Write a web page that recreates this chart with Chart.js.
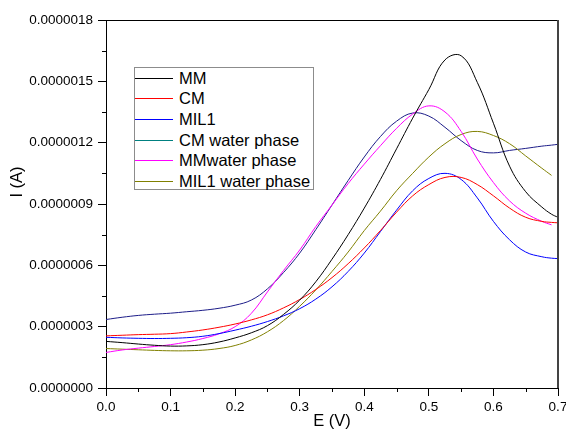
<!DOCTYPE html>
<html>
<head>
<meta charset="utf-8">
<script src="https://cdn.jsdelivr.net/npm/chart.js@4.4.1/dist/chart.umd.min.js"></script>
<style>
html, body { margin: 0; padding: 0; background: #fff; }
#wrap { position: relative; width: 566px; height: 439px; }
#legend {
    position: absolute; left: 134px; top: 67px; width: 180px; height: 123px;
    box-sizing: border-box; border: 1px solid #8c8c8c; background: #fff;
    font-family: 'Liberation Sans', Arial, sans-serif; font-size: 16.5px; color: #000;
}
.item { height: 20.6px; display: flex; align-items: center; white-space: nowrap; }
.sw { display: inline-block; width: 38px; height: 0; border-top: 1px solid; margin-right: 6px; }
</style>
</head>
<body>
<div id="wrap">
    <canvas id="cv" width="566" height="439"></canvas>
    <div id="legend"></div>
</div>
<script>
// potential E (V)
const potential = [0, 0.025, 0.05, 0.075, 0.1, 0.125, 0.15, 0.175, 0.2, 0.225, 0.25, 0.275,
    0.3, 0.325, 0.35, 0.375, 0.4, 0.425, 0.45, 0.475, 0.5, 0.525, 0.55, 0.575, 0.6, 0.625,
    0.65, 0.675, 0.69, 0.7];

// current, in units of 1e-7 A
const mm = [2.28, 2.22, 2.15, 2.09, 2.05, 2.06, 2.12, 2.25, 2.45, 2.7, 3.05, 3.6,
    4.3, 5.2, 6.3, 7.5, 8.8, 10.2, 11.7, 13.2, 14.6, 16.05, 16.25, 14.95, 12.95, 10.85,
    9.6, 8.85, 8.5, 8.35];
const cm = [2.55, 2.58, 2.61, 2.63, 2.66, 2.74, 2.84, 2.97, 3.13, 3.33, 3.58, 3.92,
    4.33, 4.82, 5.4, 6.08, 6.85, 7.7, 8.6, 9.4, 9.95, 10.3, 10.3, 9.95, 9.4, 8.8,
    8.35, 8.15, 8.1, 8.08];
const mil1 = [2.48, 2.45, 2.43, 2.42, 2.43, 2.46, 2.53, 2.66, 2.83, 3.02, 3.25, 3.53,
    3.88, 4.35, 4.95, 5.7, 6.6, 7.65, 8.7, 9.65, 10.25, 10.5, 10.2, 9.3, 8.15, 7.25,
    6.65, 6.42, 6.35, 6.33];
const cmWater = [];
const mmWater = [1.74, 1.86, 1.95, 2.03, 2.12, 2.25, 2.42, 2.65, 3.0, 3.65, 4.7, 5.75,
    6.75, 7.9, 8.95, 10.0, 10.95, 11.85, 12.7, 13.4, 13.8, 13.5, 12.55, 11.2, 10.05, 9.15,
    8.55, 8.15, 7.98, null];
const mil1Water = [1.93, 1.9, 1.87, 1.84, 1.82, 1.82, 1.85, 1.93, 2.08, 2.35, 2.75, 3.3,
    4.0, 4.8, 5.7, 6.65, 7.7, 8.65, 9.65, 10.5, 11.3, 11.95, 12.4, 12.55, 12.35, 11.95,
    11.35, 10.75, 10.4, null];
const navyCurve = [3.35, 3.46, 3.55, 3.61, 3.66, 3.73, 3.8, 3.9, 4.05, 4.3, 4.85, 5.65,
    6.6, 7.75, 8.95, 10.15, 11.3, 12.3, 13.05, 13.45, 13.3, 12.75, 12.1, 11.62, 11.5, 11.62,
    11.72, 11.83, 11.88, 11.92];

const xTicks = [0, 0.1, 0.2, 0.3, 0.4, 0.5, 0.6, 0.7];
const yTicks = [0, 3, 6, 9, 12, 15, 18];

const series = [
    { label: 'MM', values: mm, color: '#000000' },
    { label: 'CM', values: cm, color: '#ff0000' },
    { label: 'MIL1', values: mil1, color: '#0000ff' },
    { label: 'CM water phase', values: cmWater, color: '#008080' },
    { label: 'MMwater phase', values: mmWater, color: '#ff00ff' },
    { label: 'MIL1 water phase', values: mil1Water, color: '#808000' },
    { label: '', values: navyCurve, color: '#1c1c88' }
];

Chart.defaults.font.family = "'Liberation Sans', Arial, sans-serif";
Chart.defaults.color = '#000';

const datasets = series.map(s => ({
    label: s.label,
    data: s.values.map((v, i) => ({ x: potential[i], y: v })),
    borderColor: s.color,
    backgroundColor: s.color,
    borderWidth: 1,
    pointRadius: 0,
    tension: 0.4,
    spanGaps: false
}));

const extras = {
    id: 'extras',
    afterDraw(chart) {
        const ctx = chart.ctx;
        const a = chart.chartArea;
        const xs = chart.scales.x, ys = chart.scales.y;
        ctx.save();
        ctx.strokeStyle = '#000';
        ctx.lineWidth = 1;
        ctx.beginPath();
        // minor ticks
        for (let i = 0; i < xTicks.length - 1; i++) {
            const px = Math.round(xs.getPixelForValue((xTicks[i] + xTicks[i + 1]) / 2)) + 0.5;
            ctx.moveTo(px, a.bottom);
            ctx.lineTo(px, a.bottom + 4);
        }
        for (let i = 0; i < yTicks.length - 1; i++) {
            const py = Math.round(ys.getPixelForValue((yTicks[i] + yTicks[i + 1]) / 2)) + 0.5;
            ctx.moveTo(a.left - 4, py);
            ctx.lineTo(a.left, py);
        }
        // top frame
        ctx.moveTo(a.left, a.top + 0.5);
        ctx.lineTo(a.right, a.top + 0.5);
        ctx.stroke();
        ctx.strokeStyle = '#444';
        ctx.lineWidth = 2;
        ctx.beginPath();
        ctx.moveTo(a.right, a.top);
        ctx.lineTo(a.right, a.bottom);
        ctx.stroke();
        // y title
        ctx.fillStyle = '#000';
        ctx.font = "16.5px 'Liberation Sans', Arial, sans-serif";
        ctx.textAlign = 'center';
        ctx.textBaseline = 'middle';
        ctx.translate(17.5, 182);
        ctx.rotate(-Math.PI / 2);
        ctx.fillText('I (A)', 0, 0);
        ctx.restore();
    }
};

const chart = new Chart(document.getElementById('cv'), {
    type: 'line',
    data: { datasets },
    plugins: [extras],
    options: {
        responsive: false,
        animation: false,
        devicePixelRatio: 1,
        layout: { padding: { top: 20, right: 8, left: 0, bottom: 0 } },
        plugins: { legend: { display: false }, tooltip: { enabled: false } },
        scales: {
            x: {
                type: 'linear', min: 0, max: 0.7,
                afterFit(s) { s.height = 51; s.paddingLeft = 0; s.paddingRight = 0; },
                afterBuildTicks(s) { s.ticks = xTicks.map(v => ({ value: v })); },
                ticks: { autoSkip: false, maxRotation: 0, padding: 3, font: { size: 13.5 },
                    callback: v => v.toFixed(1) },
                grid: { drawOnChartArea: false, tickLength: 8, color: '#000' },
                border: { color: '#000', width: 1 },
                title: { display: true, text: 'E (V)', font: { size: 16.5 }, padding: { top: 0, bottom: 7.6 } }
            },
            y: {
                type: 'linear', min: 0, max: 18,
                afterFit(s) { s.width = 106; s.paddingTop = 0; s.paddingBottom = 0; },
                afterBuildTicks(s) { s.ticks = yTicks.map(v => ({ value: v })); },
                ticks: { autoSkip: false, padding: 5, font: { size: 13.5 },
                    callback: v => (v / 1e7).toFixed(7) },
                grid: { drawOnChartArea: false, tickLength: 8, color: '#000' },
                border: { color: '#000', width: 1 }
            }
        }
    }
});

// legend built from the labelled datasets
const legend = document.getElementById('legend');
chart.data.datasets.filter(d => d.label).forEach(d => {
    const row = document.createElement('div');
    row.className = 'item';
    row.innerHTML = `<span class="sw" style="border-color:${d.borderColor}"></span>${d.label}`;
    legend.appendChild(row);
});
</script>
</body>
</html>
